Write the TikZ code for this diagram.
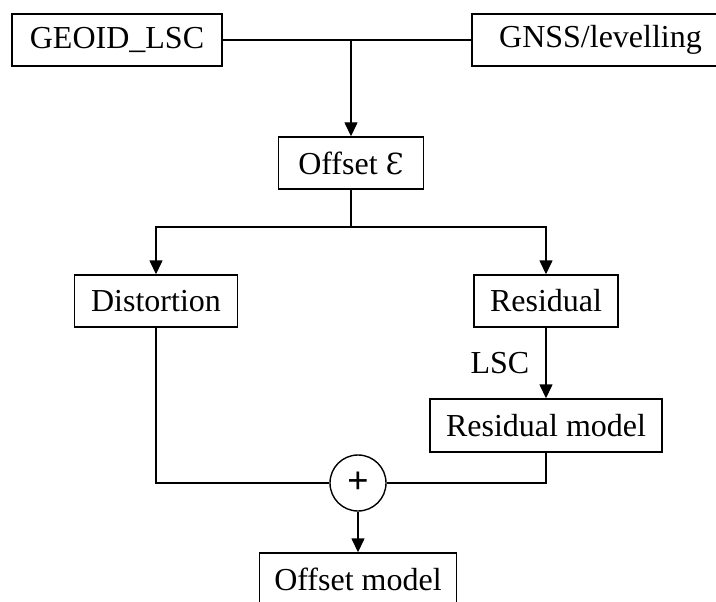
\documentclass[tikz,border=0pt]{standalone}
\usepackage{fontspec}
\setmainfont{Liberation Serif}
\newfontfamily\epsfont{DejaVu Serif}
\usetikzlibrary{arrows.meta}
\begin{document}
\begin{tikzpicture}[x=1pt,y=-1pt,
  box/.style={draw,line width=1.4pt,minimum height=52pt,inner sep=0pt,font=\fontsize{32}{37}\selectfont},
  conn/.style={line width=1.4pt},
  arr/.style={conn,-{Triangle[length=14pt,width=13pt]}},
  lbl/.style={inner sep=0pt,font=\fontsize{32}{37}\selectfont}
]
\useasboundingbox (0,0) rectangle (716,602);
\clip (0,0) rectangle (716,602);
\node[box,minimum width=210pt] (geoid) at (117,40) {GEOID\_LSC};
\node[box,minimum width=257pt] (gnss) at (600.5,40) {GNSS/levelling};
\node[box,minimum width=145pt] (offset) at (351,163) {Offset {\epsfont\fontsize{29}{37}\selectfont Ɛ}};
\node[box,minimum width=163pt] (dist) at (156,301) {Distortion};
\node[box,minimum width=144pt] (resid) at (546,301) {Residual};
\node[box,minimum width=232pt,minimum height=53pt] (rmodel) at (546,425.5) {Residual model};
\node[draw,circle,line width=1.4pt,minimum size=56pt,inner sep=0pt,font=\fontsize{38}{40}\selectfont\bfseries] (plus) at (358,483) {+};
\node[box,minimum width=197pt] (omodel) at (358,579) {Offset model};
\coordinate (j1) at (351,40);
\coordinate (j2) at (351,227);
\draw[conn] (geoid.east) -- (gnss.west);
\draw[arr] (j1) -- (offset.north);
\draw[conn] (offset.south) -- (j2);
\draw[arr] (j2) -| (dist.north);
\draw[arr] (j2) -| (resid.north);
\draw[arr] (resid.south) -- node[lbl,midway,anchor=east,xshift=-16pt] {LSC} (rmodel.north);
\draw[conn] (dist.south) |- (plus.west);
\draw[conn] (rmodel.south) |- (plus.east);
\draw[arr] (plus.south) -- (omodel.north);
\end{tikzpicture}
\end{document}
